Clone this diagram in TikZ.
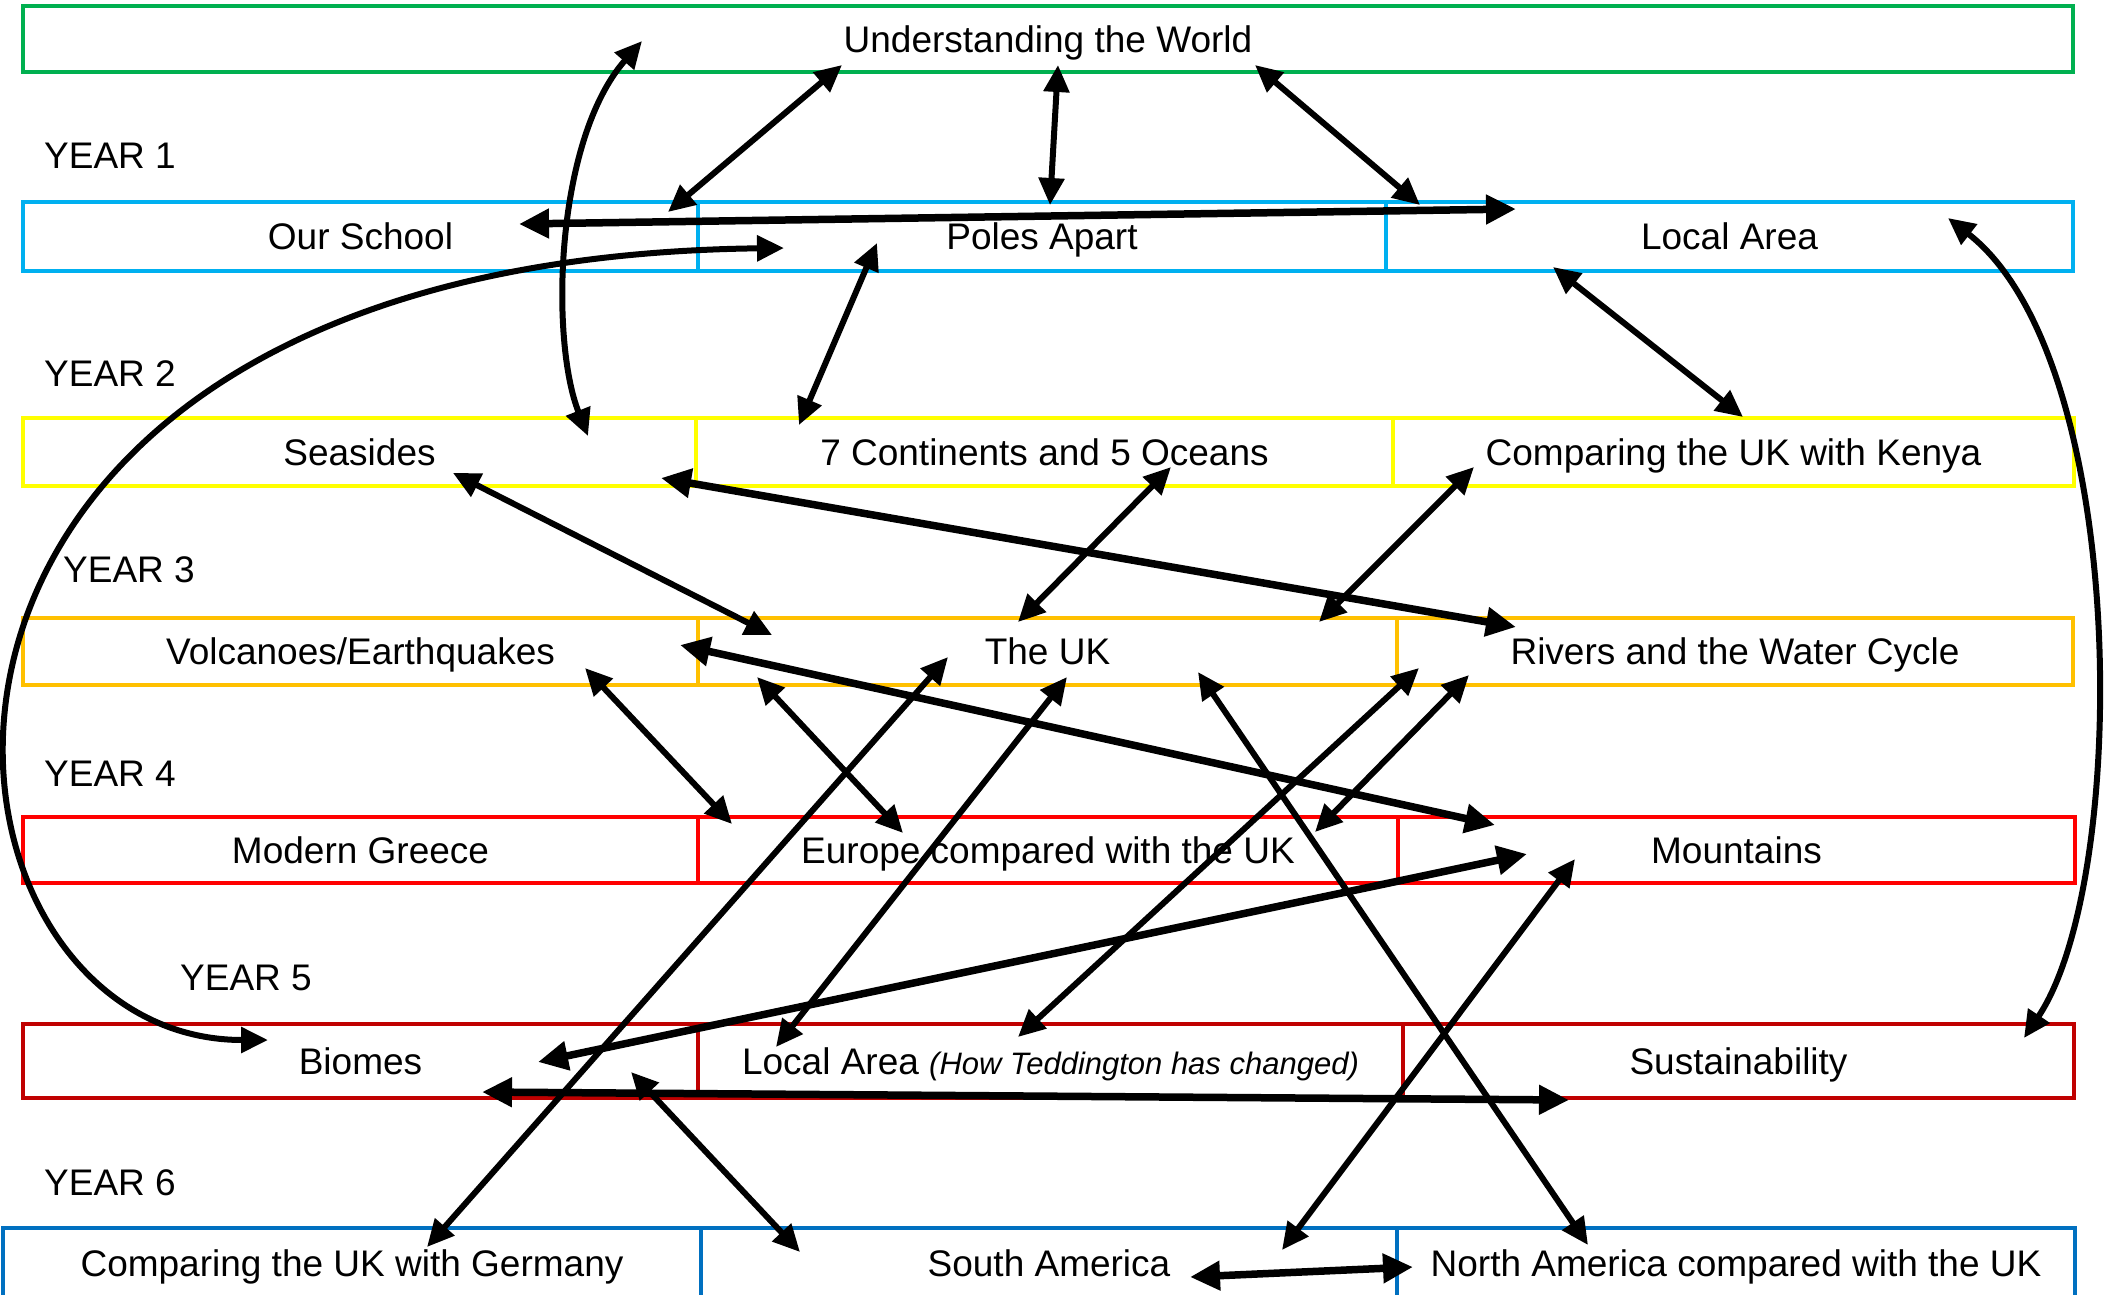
\documentclass[tikz,border=0pt]{standalone}
\usepackage{fontspec}
\setmainfont{Liberation Sans}
\usetikzlibrary{calc, arrows.meta}
\definecolor{worldgreen}{HTML}{00B050}
\definecolor{yearonecyan}{HTML}{00B0F0}
\definecolor{yeartwoyellow}{HTML}{FFFF00}
\definecolor{yearthreegold}{HTML}{FFC000}
\definecolor{yearfourred}{HTML}{FF0000}
\definecolor{yearfivered}{HTML}{C00000}
\definecolor{yearsixblue}{HTML}{0070C0}
\tikzset{
  topic/.style={draw, line width=3.5pt, inner sep=0pt, text height=26.5pt, text depth=0pt,
    font=\fontsize{37}{44}\selectfont},
  yearlabel/.style={anchor=base west, inner sep=0pt, font=\fontsize{37}{44}\selectfont},
  link/.style={line width=6pt, >={Triangle[length=27pt,width=25pt]}, <->},
  biglink/.style={line width=7.5pt, >={Triangle[length=30pt,width=28pt]}, <->}}

\begin{document}
\begin{tikzpicture}[x=1pt, y=-1pt]
    \useasboundingbox (0,0) rectangle (2105,1294);
    \node[topic, draw=worldgreen, minimum width=2050pt, minimum height=66pt] (world) at (1048,39) {Understanding the World};

    \node[yearlabel] (yone) at (44,168) {YEAR 1};
    \node[topic, draw=yearonecyan, minimum width=675pt, minimum height=69pt] (school) at (360.5,236.5) {Our School};
    \node[topic, draw=yearonecyan, minimum width=688pt, minimum height=69pt] (poles) at (1042,236.5) {Poles Apart};
    \node[topic, draw=yearonecyan, minimum width=687pt, minimum height=69pt] (localone) at (1729.5,236.5) {Local Area};

    \node[yearlabel] (ytwo) at (44,386) {YEAR 2};
    \node[topic, draw=yeartwoyellow, minimum width=673pt, minimum height=68pt] (seaside) at (359.5,452) {Seasides};
    \node[topic, draw=yeartwoyellow, minimum width=697pt, minimum height=68pt] (conts) at (1044.5,452) {7 Continents and 5 Oceans};
    \node[topic, draw=yeartwoyellow, minimum width=681pt, minimum height=68pt] (kenya) at (1733.5,452) {Comparing the UK with Kenya};

    \node[yearlabel] (ythree) at (63,582) {YEAR 3};
    \node[topic, draw=yearthreegold, minimum width=675pt, minimum height=67pt] (volc) at (360.5,651.5) {Volcanoes/Earthquakes};
    \node[topic, draw=yearthreegold, minimum width=699pt, minimum height=67pt] (uk) at (1047.5,651.5) {The UK};
    \node[topic, draw=yearthreegold, minimum width=676pt, minimum height=67pt] (rivers) at (1735,651.5) {Rivers and the Water Cycle};

    \node[yearlabel] (yfour) at (44,786) {YEAR 4};
    \node[topic, draw=yearfourred, minimum width=675pt, minimum height=66pt] (greece) at (360.5,850) {Modern Greece};
    \node[topic, draw=yearfourred, minimum width=700pt, minimum height=66pt] (europe) at (1048,850) {Europe compared with the UK};
    \node[topic, draw=yearfourred, minimum width=677pt, minimum height=66pt] (mount) at (1736.5,850) {Mountains};

    \node[yearlabel] (yfive) at (180,990) {YEAR 5};
    \node[topic, draw=yearfivered, minimum width=675pt, minimum height=74pt] (biomes) at (360.5,1061) {Biomes};
    \node[topic, draw=yearfivered, minimum width=705pt, minimum height=74pt] (localfive) at (1050.5,1061) {Local Area {\fontsize{31}{37}\selectfont\itshape (How Teddington has changed)}};
    \node[topic, draw=yearfivered, minimum width=671pt, minimum height=74pt] (sustain) at (1738.5,1061) {Sustainability};

    \node[yearlabel] (ysix) at (44,1195) {YEAR 6};
    \node[topic, draw=yearsixblue, minimum width=698pt, minimum height=70pt] (germany) at (352,1263) {Comparing the UK with Germany};
    \node[topic, draw=yearsixblue, minimum width=696pt, minimum height=70pt] (samerica) at (1049,1263) {South America};
    \node[topic, draw=yearsixblue, minimum width=678pt, minimum height=70pt] (namerica) at (1736,1263) {North America compared with the UK};

    \draw[link] ($(world)+(-406,2)$) .. controls +(-87,99) and +(-38,-96) .. ($(seaside)+(228.5,-16)$);
    \draw[link] ($(world)+(-206,26)$) -- ($(school)+(307.5,-24.5)$);
    \draw[link] ($(world)+(10,26)$) -- ($(poles)+(8,-31.5)$);
    \draw[link] ($(world)+(207,26)$) -- ($(localone)+(-309.5,-31.5)$);
    \draw[biglink] ($(school)+(158.5,-12.5)$) -- ($(localone)+(-213.5,-27.5)$);
    \draw[link] ($(poles)+(-258,11.5)$) .. controls +(-974,12) and +(-368,0) .. ($(biomes)+(-92.5,-21)$);
    \draw[link] ($(poles)+(-165,6.5)$) -- ($(conts)+(-245.5,-27)$);
    \draw[link] ($(localone)+(-176.5,30.5)$) -- ($(kenya)+(9.5,-35)$);
    \draw[link] ($(localone)+(218.5,-18.5)$) .. controls +(182,142) and +(106,-158) .. ($(sustain)+(285.5,-23)$);
    \draw[link] ($(seaside)+(93.5,21)$) -- ($(uk)+(-275.5,-16.5)$);
    \draw[biglink] ($(seaside)+(301.5,26)$) -- ($(rivers)+(-219,-24.5)$);
    \draw[link] ($(conts)+(126.5,15)$) -- ($(uk)+(-29.5,-29.5)$);
    \draw[link] ($(kenya)+(-259.5,15)$) -- ($(uk)+(271.5,-29.5)$);
    \draw[biglink] ($(volc)+(319.5,-6.5)$) -- ($(mount)+(-241.5,-25)$);
    \draw[link] ($(volc)+(224.5,16.5)$) -- ($(europe)+(-316,-26)$);
    \draw[link] ($(uk)+(-290.5,25.5)$) -- ($(europe)+(-145,-17)$);
    \draw[link] ($(uk)+(-99.5,5.5)$) -- ($(germany)+(75,-16)$);
    \draw[link] ($(uk)+(19.5,25.5)$) -- ($(localfive)+(-274.5,-14)$);
    \draw[link] ($(uk)+(150.5,20.5)$) -- ($(namerica)+(-148,-18)$);
    \draw[link] ($(rivers)+(-316,16.5)$) -- ($(localfive)+(-32.5,-24)$);
    \draw[link] ($(rivers)+(-266,23.5)$) -- ($(europe)+(267,-18)$);
    \draw[biglink] ($(mount)+(-209.5,4)$) -- ($(biomes)+(177.5,1)$);
    \draw[link] ($(mount)+(-161.5,9)$) -- ($(samerica)+(233,-13)$);
    \draw[biglink] ($(biomes)+(121.5,31)$) -- ($(sustain)+(-169.5,39)$);
    \draw[link] ($(biomes)+(270.5,11)$) -- ($(samerica)+(-249,-11)$);
    \draw[biglink] ($(samerica)+(141,14)$) -- ($(namerica)+(-323,4)$);
\end{tikzpicture}
\end{document}
